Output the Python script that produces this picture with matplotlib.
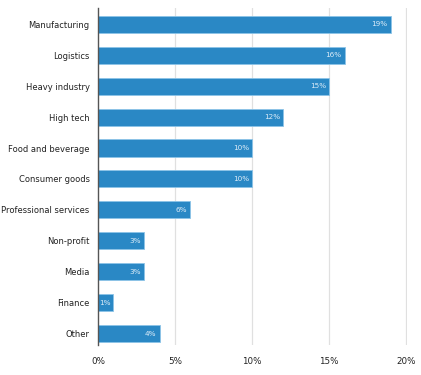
import matplotlib
matplotlib.use("Agg")
import matplotlib.pyplot as plt

categories = ["Manufacturing", "Logistics", "Heavy industry", "High tech",
              "Food and beverage", "Consumer goods", "Professional services",
              "Non-profit", "Media", "Finance", "Other"]
values = [19, 16, 15, 12, 10, 10, 6, 3, 3, 1, 4]
xticks = [0, 5, 10, 15, 20]
xtick_labels = ["0%", "5%", "10%", "15%", "20%"]

fig = plt.figure(figsize=(4.21, 3.75), dpi=100)
ax = fig.add_axes([98/421, 1-345/375, (407-98)/421, (345-8)/375])

pos = list(range(len(categories)))
ax.barh(pos, values, height=0.55, color="#2a88c5", edgecolor="#8cc4e8", linewidth=0.6, zorder=3)
for p, v in zip(pos, values):
    ax.text(v - 0.2, p, f"{v}%", ha="right", va="center", color="#dcecf8",
            fontsize=5.2, zorder=4)

ax.set_xlim(0, 20.05)
ax.set_ylim(10.36, -0.52)
ax.set_yticks(pos)
ax.set_yticklabels(categories, fontsize=6.0, color="#222222")
ax.set_xticks(xticks)
ax.set_xticklabels(xtick_labels, fontsize=6.3, color="#222222")
ax.tick_params(axis="both", length=0)
ax.tick_params(axis="y", pad=6)
ax.tick_params(axis="x", pad=9)
for x in xticks[1:]:
    ax.axvline(x, color="#e0e0e0", linewidth=0.9, zorder=1)
for s in ["top", "right", "bottom"]:
    ax.spines[s].set_visible(False)
ax.spines["left"].set_color("#555555")
ax.spines["left"].set_linewidth(1.0)
ax.spines["left"].set_zorder(5)

fig.savefig("out.png", dpi=100)
